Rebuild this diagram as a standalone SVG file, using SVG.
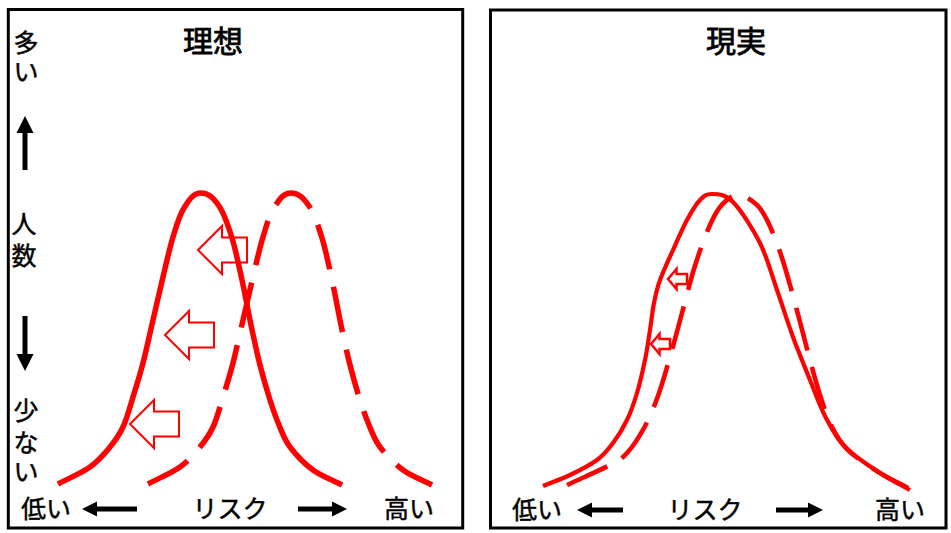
<svg xmlns="http://www.w3.org/2000/svg" xmlns:xlink="http://www.w3.org/1999/xlink" width="951" height="533" viewBox="0 0 951 533">
<style>
.box{fill:#fff;stroke:#000;stroke-width:3}
.t{font-family:"Noto Sans CJK JP","Noto Sans CJK SC",sans-serif;font-size:25px;fill:#000;stroke:#000;stroke-width:0.45}
.title{font-size:30px;stroke-width:0.8}
.mid{text-anchor:middle}
.red{fill:none;stroke:#f00;stroke-linecap:butt;stroke-linejoin:round}
.solidL{stroke-width:5.5}
.dashL{stroke-width:5.5;stroke-dasharray:46 18}
.solidR{stroke-width:4.2}
.dashR{stroke-width:4.6;stroke-dasharray:44 17}
.hollow{fill:none;stroke:#f00;stroke-width:2;stroke-linejoin:miter}
.hollowS{fill:none;stroke:#f00;stroke-width:2.5;stroke-linejoin:miter}
.blk{fill:#000}
</style>
<defs>
<path id="bellL" d="M58,484 C68.7,478.3 81.3,473.2 90,467 C98.7,460.8 104.5,453.7 110,447 C115.5,440.3 119.2,435.3 123,427 C126.8,418.7 129.7,407.7 133,397 C136.3,386.3 139.7,375.8 143,363 C146.3,350.2 149.7,334.3 153,320 C156.3,305.7 159.7,290.8 163,277 C166.3,263.2 169.5,248.5 173,237 C176.5,225.5 179,216 184,208 C189,200 193,193 201,193 C209,193 213.8,198.5 219,206 C224.2,213.5 228.2,225.7 232,238 C235.8,250.3 238.8,265.5 242,280 C245.2,294.5 248,310.8 251,325 C254,339.2 256.8,352.5 260,365 C263.2,377.5 266.8,390 270,400 C273.2,410 275.7,417.2 279,425 C282.3,432.8 284.3,439.5 290,447 C295.7,454.5 304.3,463.7 313,470 C321.7,476.3 332.3,480 342,485"/>
<path id="bigArrow" d="M0,0 L24,-24 L24,-12.5 L49,-12.5 L49,12.5 L24,12.5 L24,24 Z"/>
<path id="smallArrow" d="M0,0 L8.5,-10 L8.5,-5 L19,-5 L19,5 L8.5,5 L8.5,10 Z"/>
</defs>

<g id="panel-ideal">
<rect class="box" x="8.3" y="9.5" width="454.4" height="518.5"/>
<text class="t title mid" x="213" y="52">理想</text>
</g>
<g id="panel-real">
<rect class="box" x="490.5" y="10" width="455.5" height="518"/>
<text class="t title mid" x="736" y="52">現実</text>
</g>

<g id="axis-y-ideal">
<text class="t mid" x="26" y="52">多</text>
<text class="t mid" x="26" y="81">い</text>
<rect class="blk" x="22.5" y="131" width="5" height="39"/>
<polygon class="blk" points="25,116 33.5,133 16.5,133"/>
<text class="t mid" x="24" y="233">人</text>
<text class="t mid" x="24" y="265">数</text>
<rect class="blk" x="22.5" y="316" width="5" height="40"/>
<polygon class="blk" points="16.5,354 33.5,354 25,371"/>
<text class="t mid" x="26" y="420">少</text>
<text class="t mid" x="26" y="452">な</text>
<text class="t mid" x="26" y="481">い</text>
</g>

<g id="axis-x-ideal">
<text class="t" x="21" y="518">低い</text>
<polygon class="blk" points="82,509 97,501.5 97,516.5"/>
<rect class="blk" x="96" y="506.5" width="41" height="5"/>
<text class="t mid" x="230" y="518">リスク</text>
<rect class="blk" x="298" y="506.5" width="35" height="5"/>
<polygon class="blk" points="332,501.5 347,509 332,516.5"/>
<text class="t mid" x="409" y="518">高い</text>
</g>

<g id="axis-x-real">
<text class="t mid" x="537" y="519">低い</text>
<polygon class="blk" points="577,510 592,502.5 592,517.5"/>
<rect class="blk" x="591" y="507.5" width="32" height="5"/>
<text class="t mid" x="705" y="519">リスク</text>
<rect class="blk" x="776" y="507.5" width="33" height="5"/>
<polygon class="blk" points="808,502.5 823,510 808,517.5"/>
<text class="t mid" x="900" y="519">高い</text>
</g>

<g id="connectors">
<use xlink:href="#bellL" class="red solidL"/>
<use xlink:href="#bellL" class="red dashL" transform="translate(90,0)"/>
<use xlink:href="#bigArrow" class="hollow" transform="translate(198,250)"/>
<use xlink:href="#bigArrow" class="hollow" transform="translate(165,335)"/>
<use xlink:href="#bigArrow" class="hollow" transform="translate(130,424)"/>

<path class="red solidR" d="M543,486 C552,482.3 561,479.3 570,475 C579,470.7 589.8,465.3 597,460 C604.2,454.7 608,449.7 613,443 C618,436.3 623,428.3 627,420 C631,411.7 634,403 637,393 C640,383 642.8,370.5 645,360 C647.2,349.5 648.5,339.5 650,330 C651.5,320.5 652.3,311.3 654,303 C655.7,294.7 656.8,288.8 660,280 C663.2,271.2 668.5,260 673,250 C677.5,240 682.5,228.3 687,220 C691.5,211.7 695.8,204.3 700,200 C704.2,195.7 706,194 712,194 C718,194 725,193.8 733,202 C741,210.2 752.7,228.3 760,243 C767.3,257.7 771.5,274.3 777,290 C782.5,305.7 787.5,322 793,337 C798.5,352 804.7,366.8 810,380 C815.3,393.2 819.2,404.8 825,416 C830.8,427.2 835.8,437.5 845,447 C854.2,456.5 869.2,465.8 880,473 C890.8,480.2 900,484.3 910,490"/>
<path class="red dashR" d="M567,485 C581.3,478.3 600,470.3 610,465 C620,459.7 621.3,459.2 627,453 C632.7,446.8 638.8,437.5 644,428 C649.2,418.5 653.7,407.8 658,396 C662.3,384.2 666,370.8 670,357 C674,343.2 678,327.7 682,313 C686,298.3 689.8,282.5 694,269 C698.2,255.5 702.7,242.3 707,232 C711.3,221.7 714.8,213.2 720,207 C725.2,200.8 731.8,195 738,195 C744.2,195 752,200.5 757,205 C762,209.5 764.2,214.2 768,222 C771.8,229.8 776.3,241.5 780,252 C783.7,262.5 786.7,273.3 790,285 C793.3,296.7 796.7,309.5 800,322 C803.3,334.5 806.7,347.8 810,360 C813.3,372.2 816.3,383.7 820,395 C823.7,406.3 827,417 832,427 C837,437 841,443 847,449 C856,458 869,466.5 880,473 C890,479 898.7,483 908,488"/>
<use xlink:href="#smallArrow" class="hollowS" transform="translate(668,279)"/>
<use xlink:href="#smallArrow" class="hollowS" transform="translate(651,344)"/>
</g>
</svg>
